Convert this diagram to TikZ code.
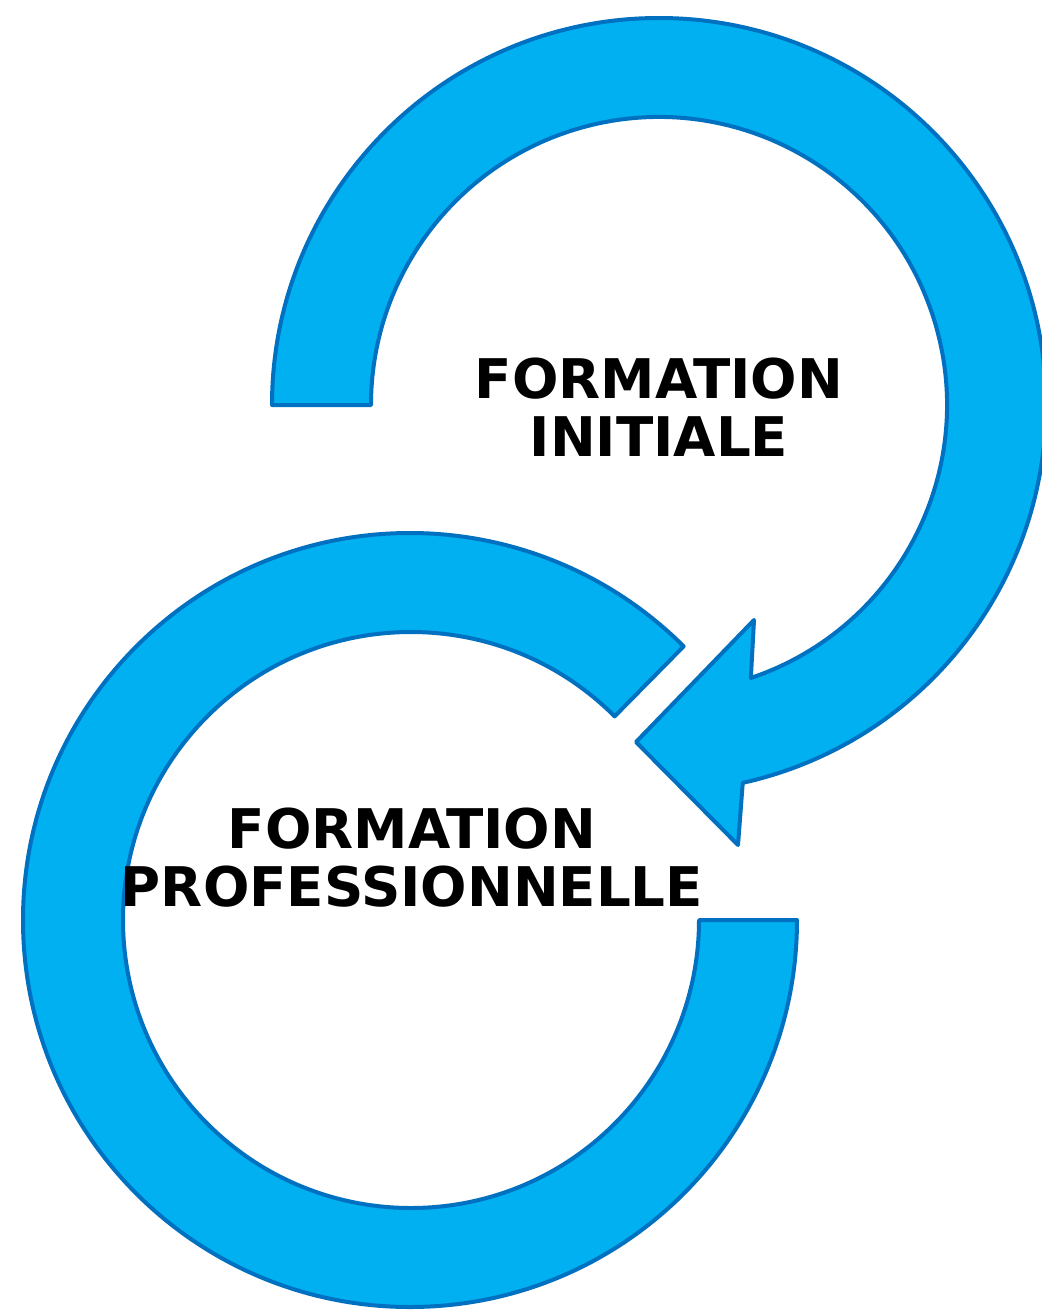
\documentclass[tikz,border=0pt]{standalone}
\usepackage{fontspec}
\setmainfont{DejaVu Sans}
\usepackage{tikz}
\definecolor{loopfill}{HTML}{00B0F0}
\definecolor{loopline}{HTML}{0070C0}
\tikzset{
  loop arrow/.style={fill=loopfill, draw=loopline, line width=3pt, line join=round},
  loop label/.style={font=\fontsize{41}{43.5}\selectfont\bfseries, align=center, inner sep=0pt}
}

\begin{document}
\begin{tikzpicture}[x=0.75pt,y=-0.75pt]
\useasboundingbox (0,0) rectangle (1042,1310);
% centres of the two loops
\coordinate (top centre) at (659,405);
\coordinate (bottom centre) at (411,920);

% lower loop, open at the upper right
\draw[loop arrow] (797,920) arc[start angle=0, end angle=315, radius=387]
  -- ([shift={(315:288)}]bottom centre)
  arc[start angle=315, end angle=0, radius=288] -- cycle;

% upper loop with its head
\draw[loop arrow] (272,405) arc[start angle=180, end angle=437.5, radius=387]
  -- (738,845) -- (636,742) -- (754,620)
  -- ([shift={(431.4:288)}]top centre)
  arc[start angle=431.4, end angle=180, radius=288] -- cycle;

% labels
\node[loop label] (initial) at (659,407) {FORMATION\\INITIALE};
\node[loop label] (professional) at (412,858) {FORMATION\\PROFESSIONNELLE};

\end{tikzpicture}
\end{document}
